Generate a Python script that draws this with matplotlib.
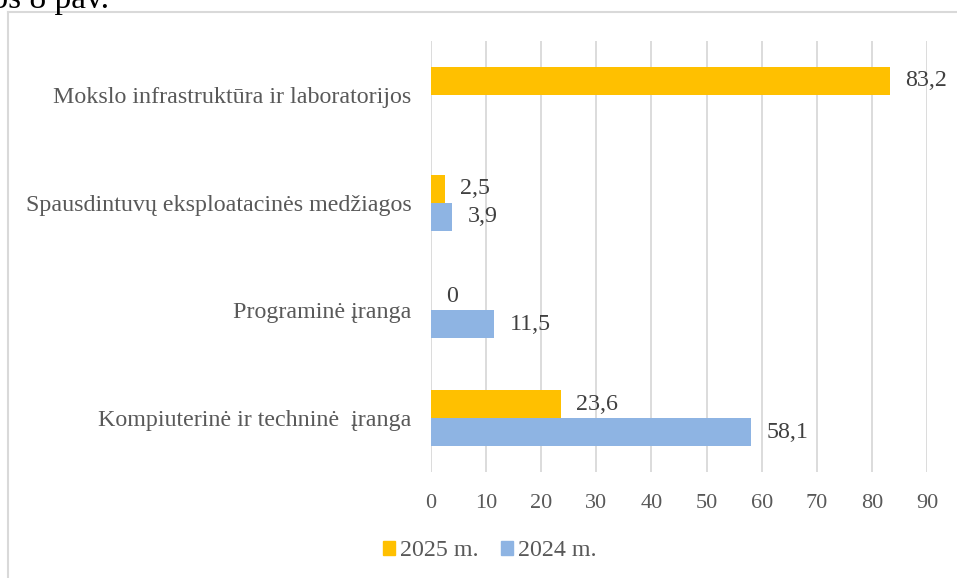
import matplotlib.pyplot as plt
import numpy as np
from matplotlib.lines import Line2D
from matplotlib.patches import Patch

categories = ["Mokslo infrastruktūra ir laboratorijos",
              "Spausdintuvų eksploatacinės medžiagos",
              "Programinė įranga",
              "Kompiuterinė ir techninė  įranga"]
vals_2025 = [83.2, 2.5, 0, 23.6]
vals_2024 = [None, 3.9, 11.5, 58.1]
x_ticks = [0, 10, 20, 30, 40, 50, 60, 70, 80, 90]

plt.rcParams["font.family"] = ["Liberation Serif", "DejaVu Serif"]

W, H = 957, 578
fig = plt.figure(figsize=(W / 100, H / 100), dpi=100)
ax = fig.add_axes([431 / W, 1 - 472 / H, 496 / W, 431 / H])

yellow = "#FFC000"
blue = "#8EB4E3"
grid_c = "#D9D9D9"
txt_c = "#595959"
lab_c = "#404040"
fs = 17.3
tick_fs = 16

y = np.arange(len(categories))[::-1]
h = 0.26

def fmt(v):
    return ("%g" % v).replace(".", ",")

for yi, v25, v24 in zip(y, vals_2025, vals_2024):
    if v25 is not None:
        ax.barh(yi + h / 2, v25, height=h, color=yellow, zorder=2)
        ax.annotate(fmt(v25), (v25, yi + h / 2), xytext=(11, 0), textcoords="offset points",
                    ha="left", va="center", fontsize=fs, color=lab_c)
    if v24 is not None:
        ax.barh(yi - h / 2, v24, height=h, color=blue, zorder=2)
        ax.annotate(fmt(v24), (v24, yi - h / 2), xytext=(11, 0), textcoords="offset points",
                    ha="left", va="center", fontsize=fs, color=lab_c)

ax.set_xlim(0, 90)
ax.set_ylim(-0.5, len(categories) - 0.5)
ax.set_xticks(x_ticks)
ax.set_xticklabels([str(t) for t in x_ticks], fontsize=tick_fs, color=txt_c)
ax.set_yticks(y)
ax.set_yticklabels(categories, fontsize=fs, color=txt_c)
ax.tick_params(axis="x", length=0, pad=16)
ax.tick_params(axis="y", length=0, pad=14)
ax.grid(axis="x", color=grid_c, linewidth=1.3, zorder=0)
for s in ax.spines.values():
    s.set_visible(False)

handles = [Patch(color=yellow, label="2025 m."), Patch(color=blue, label="2024 m.")]
fig.legend(handles=handles, loc="center", bbox_to_anchor=(490 / W, 1 - 551 / H), ncol=2,
           frameon=False, fontsize=fs, labelcolor=txt_c, handlelength=0.5, handleheight=0.5,
           handletextpad=0.2, columnspacing=0.95, borderpad=0)

# outer frame lines
fig.add_artist(Line2D([8 / W, 8 / W], [0, 1 - 12 / H], color=grid_c, linewidth=1.5))
fig.add_artist(Line2D([8 / W, 1], [1 - 12 / H, 1 - 12 / H], color=grid_c, linewidth=1.5))

# cut-off caption above the chart
fig.text(-27 / W, 1 - 8 / H, "ilos 8 pav.", fontsize=24, color="black", va="baseline", ha="left")

fig.savefig("out.png", dpi=100)
